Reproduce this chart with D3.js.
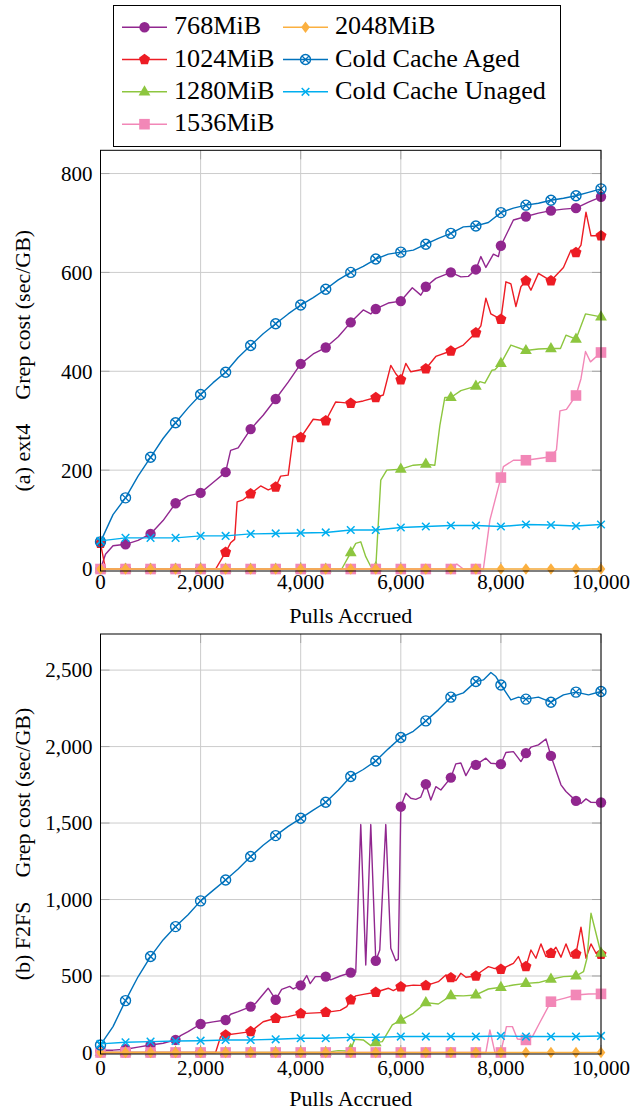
<!DOCTYPE html>
<html><head><meta charset="utf-8">
<script src="https://cdn.jsdelivr.net/npm/d3@7"></script>
<style>body{margin:0;background:#fff}svg{display:block}text{font-family:"Liberation Serif","Times New Roman",serif;fill:#000}</style>
</head><body>
<svg id="chart" width="640" height="1110"></svg>
<script>
// ---------- tick values ----------
const X_TICKS = [0, 2000, 4000, 6000, 8000, 10000];
const EXT4_Y_TICKS = [0, 200, 400, 600, 800];
const F2FS_Y_TICKS = [0, 500, 1000, 1500, 2000, 2500];
const SERIES_NAMES = ["768MiB", "1024MiB", "1280MiB", "1536MiB", "2048MiB", "Cold Cache Aged", "Cold Cache Unaged"];
const SERIES_COLORS = ["#91278F", "#ED1C24", "#8DC63F", "#F287B7", "#FBB040", "#0072BC", "#00AEEF"];
const SERIES_MARKS = ["circle", "pentagon", "triangle", "square", "diamond", "otimes", "cross"];

// ---------- (a) ext4 ----------
const ext4_768 = [[0,0],[100,30],[250,47],[500,50],[750,58],[1000,71],[1250,98],[1500,133],[1750,148],[2000,154],[2250,175],[2500,196],[2600,240],[2750,245],[3000,283],[3250,311],[3500,344],[3750,378],[4000,415],[4250,435],[4500,448],[4750,470],[5000,499],[5250,524],[5400,516],[5500,526],[5750,538],[6000,542],[6230,569],[6400,554],[6500,571],[6700,588],[7000,600],[7200,591],[7350,592],[7500,606],[7600,632],[7700,610],[7850,637],[7950,632],[8000,654],[8250,706],[8500,713],[8750,720],[9000,725],[9250,728],[9500,730],[9750,742],[10000,753]];
const ext4_1024 = [[0,52],[100,0],[500,0],[1000,0],[1500,0],[2000,0],[2300,0],[2500,34],[2600,53],[2680,60],[2730,136],[2850,140],[3000,152],[3200,168],[3350,160],[3500,166],[3600,188],[3750,190],[3850,268],[4000,266],[4250,303],[4500,300],[4700,338],[4800,337],[5000,335],[5250,340],[5500,347],[5650,352],[5800,412],[5900,395],[6000,383],[6100,416],[6200,399],[6500,405],[6700,430],[7000,441],[7250,453],[7500,478],[7600,492],[7700,548],[7800,516],[8000,505],[8100,581],[8200,577],[8300,531],[8400,571],[8500,583],[8600,564],[8750,598],[9000,583],[9250,610],[9400,645],[9500,640],[9600,655],[9700,722],[9800,674],[10000,674]];
const ext4_1280 = [[0,0],[500,0],[1000,0],[1500,0],[2000,0],[2500,0],[3000,0],[3500,0],[4000,0],[4500,0],[4820,0],[5000,33],[5100,52],[5200,55],[5300,25],[5400,5],[5500,3],[5600,180],[5720,200],[6000,202],[6250,210],[6500,212],[6680,210],[6780,290],[6880,347],[7000,347],[7200,361],[7500,370],[7580,379],[7680,376],[7820,402],[7880,403],[8000,416],[8200,453],[8500,442],[8750,445],[9000,446],[9190,446],[9300,473],[9500,465],[9690,516],[10000,510]];
const ext4_1536 = [[0,0],[500,0],[1000,0],[1500,0],[2000,0],[2500,0],[3000,0],[3500,0],[4000,0],[4500,0],[5000,0],[5500,0],[6000,0],[6500,0],[7000,0],[7120,10],[7250,0],[7500,0],[7650,0],[7780,99],[8000,185],[8050,207],[8250,220],[8500,220],[9000,227],[9110,241],[9180,320],[9310,323],[9500,351],[9600,385],[9690,440],[9790,419],[10000,438]];
const ext4_2048 = [[0,0],[500,0],[1000,0],[1500,0],[2000,0],[2500,0],[3000,0],[3500,0],[4000,0],[4500,0],[5000,0],[5500,0],[6000,0],[6500,0],[7000,0],[7500,0],[8000,0],[8500,0],[9000,0],[9500,0],[10000,0]];
const ext4_aged = [[0,55],[250,110],[500,144],[750,188],[1000,226],[1250,264],[1500,296],[1750,326],[2000,353],[2250,377],[2500,398],[2750,428],[3000,452],[3250,476],[3500,496],[3750,516],[4000,534],[4250,549],[4500,566],[4750,585],[5000,600],[5250,612],[5500,627],[5750,637],[6000,641],[6250,645],[6500,657],[6750,669],[7000,679],[7250,692],[7500,694],[7750,701],[8000,721],[8250,730],[8500,736],[8750,740],[9000,746],[9250,750],[9500,755],[9750,762],[10000,769]];
const ext4_unaged = [[0,57],[500,63],[1000,63],[1500,63],[2000,67],[2500,67],[3000,71],[3500,72],[4000,73],[4500,74],[5000,79],[5500,79],[6000,84],[6500,86],[7000,88],[7500,88],[8000,86],[8500,90],[9000,89],[9500,87],[10000,90]];

// ---------- (b) F2FS ----------
const f2fs_768 = [[0,15],[250,15],[500,21],[750,35],[1000,49],[1250,60],[1500,82],[1600,110],[1750,136],[2000,186],[2250,200],[2500,212],[2600,250],[2750,267],[3000,300],[3100,322],[3350,420],[3500,345],[3620,412],[3780,432],[3850,415],[4000,439],[4120,503],[4190,450],[4290,496],[4500,496],[4600,475],[4790,500],[5000,522],[5100,525],[5200,1490],[5300,572],[5400,1490],[5500,600],[5580,670],[5700,1490],[5800,681],[5900,600],[5950,610],[6000,1607],[6100,1695],[6200,1662],[6300,1655],[6400,1670],[6500,1754],[6600,1651],[6700,1738],[6800,1716],[7000,1797],[7100,1887],[7200,1893],[7300,1810],[7400,1868],[7500,1880],[7700,1924],[7800,1891],[8000,1885],[8100,1961],[8250,1967],[8400,1902],[8500,1957],[8600,1996],[8750,2011],[8900,2050],[9000,1939],[9200,1750],[9300,1706],[9500,1645],[9600,1628],[9700,1658],[9800,1635],[10000,1634]];
const f2fs_1024 = [[0,0],[500,0],[1000,0],[1500,0],[2000,0],[2300,0],[2400,104],[2500,114],[2750,125],[3000,136],[3250,201],[3500,224],[3750,234],[4000,254],[4500,262],[4790,275],[4920,300],[5000,345],[5100,370],[5250,380],[5500,394],[5750,420],[5850,405],[6000,430],[6250,440],[6500,437],[6750,463],[6900,507],[7000,489],[7100,470],[7200,518],[7300,492],[7500,500],[7600,528],[7750,561],[7850,551],[8000,544],[8250,583],[8350,627],[8450,551],[8500,561],[8600,670],[8700,616],[8800,710],[8900,627],[9000,649],[9100,688],[9200,623],[9300,710],[9400,627],[9500,644],[9600,819],[9700,616],[9800,710],[9900,649],[10000,642]];
const f2fs_1280 = [[0,0],[500,0],[1000,0],[1500,0],[2000,0],[2500,0],[3000,0],[3500,0],[4000,0],[4500,0],[4750,12],[4900,10],[5000,20],[5080,86],[5250,82],[5400,45],[5500,64],[5630,71],[5830,180],[6000,212],[6250,256],[6500,326],[6750,317],[7000,372],[7250,370],[7500,376],[7750,415],[8000,426],[8250,441],[8500,452],[8750,457],[9000,479],[9250,496],[9500,500],[9650,528],[9720,616],[9800,910],[10000,649]];
const f2fs_1536 = [[0,0],[500,0],[1000,0],[1500,0],[2000,0],[2500,0],[3000,0],[3500,0],[4000,0],[4500,0],[5000,0],[5500,0],[6000,0],[6500,0],[7000,0],[7500,0],[7700,0],[7780,147],[7880,0],[8000,0],[8110,169],[8230,169],[8330,88],[8500,82],[8630,104],[8770,191],[9000,332],[9260,354],[9500,376],[9750,382],[10000,383]];
const f2fs_2048 = [[0,0],[500,0],[1000,0],[1500,0],[2000,0],[2500,0],[3000,0],[3500,0],[4000,0],[4500,0],[5000,0],[5500,0],[6000,0],[6500,0],[7000,0],[7500,0],[8000,0],[8500,0],[9000,0],[9500,0],[10000,0]];
const f2fs_aged = [[0,49],[250,169],[500,339],[750,495],[1000,627],[1250,736],[1500,823],[1750,900],[2000,991],[2250,1060],[2500,1128],[2750,1200],[3000,1281],[3250,1355],[3500,1418],[3750,1478],[4000,1531],[4250,1585],[4500,1636],[4750,1715],[5000,1804],[5250,1850],[5500,1906],[5750,1985],[6000,2059],[6250,2100],[6500,2168],[6750,2240],[7000,2323],[7250,2351],[7500,2425],[7650,2436],[7800,2484],[7900,2458],[8000,2403],[8200,2305],[8350,2323],[8500,2310],[8750,2323],[9000,2290],[9250,2338],[9500,2356],[9750,2338],[10000,2360]];
const f2fs_unaged = [[0,56],[500,67],[1000,71],[1500,75],[2000,77],[2500,82],[3000,82],[3500,86],[4000,93],[4500,93],[5000,99],[5500,99],[6000,104],[6500,104],[7000,104],[7500,104],[8000,108],[8500,104],[9000,104],[9500,104],[10000,108]];

const EXT4_SERIES = [ext4_768, ext4_1024, ext4_1280, ext4_1536, ext4_2048, ext4_aged, ext4_unaged];
const F2FS_SERIES = [f2fs_768, f2fs_1024, f2fs_1280, f2fs_1536, f2fs_2048, f2fs_aged, f2fs_unaged];

// ---------- drawing ----------
const svg = d3.select("#chart");
const x = d3.scaleLinear().domain([0, 10000]).range([100.5, 601]);
const fmt = d3.format(",");

function drawMarker(g, type, color, cx, cy) {
  const m = g.append("g").attr("transform", `translate(${cx},${cy})`);
  if (type === "circle") m.append("circle").attr("r", 5.2).attr("fill", color);
  else if (type === "pentagon") {
    const pts = d3.range(5).map(k => { const a = -Math.PI / 2 + k * 2 * Math.PI / 5; return [5.8 * Math.cos(a), 5.8 * Math.sin(a)]; });
    m.append("path").attr("d", "M" + pts.join("L") + "Z").attr("fill", color);
  } else if (type === "triangle") m.append("path").attr("d", "M0,-6.6L5.9,3.6L-5.9,3.6Z").attr("fill", color);
  else if (type === "square") m.append("rect").attr("x", -5.3).attr("y", -5.3).attr("width", 10.6).attr("height", 10.6).attr("fill", color);
  else if (type === "diamond") m.append("path").attr("d", "M0,-5.8L4.3,0L0,5.8L-4.3,0Z").attr("fill", color);
  else if (type === "otimes") {
    m.append("circle").attr("r", 5).attr("fill", "none").attr("stroke", color).attr("stroke-width", 1.4);
    m.append("path").attr("d", "M-3.5,-3.5L3.5,3.5M3.5,-3.5L-3.5,3.5").attr("stroke", color).attr("stroke-width", 1.3);
  } else if (type === "cross") m.append("path").attr("d", "M-3.8,-3.8L3.8,3.8M3.8,-3.8L-3.8,3.8").attr("stroke", color).attr("stroke-width", 1.5);
}

function drawPanel(p) {
  const y = d3.scaleLinear().domain(p.yDomain).range([p.bottom, p.top]);
  const g = svg.append("g");
  // grid
  g.selectAll(".gx").data(X_TICKS).join("line").attr("x1", d => x(d)).attr("x2", d => x(d))
    .attr("y1", p.top).attr("y2", p.bottom).attr("stroke", "#cccccc").attr("stroke-width", 1);
  g.selectAll(".gy").data(p.yTicks).join("line").attr("x1", x.range()[0]).attr("x2", x.range()[1])
    .attr("y1", d => y(d)).attr("y2", d => y(d)).attr("stroke", "#cccccc").attr("stroke-width", 1);
  // inner ticks
  const tk = g.append("g").attr("stroke", "#a6a6a6").attr("stroke-width", 1);
  p.yTicks.forEach(d => {
    tk.append("line").attr("x1", x.range()[0]).attr("x2", x.range()[0] + 9).attr("y1", y(d)).attr("y2", y(d));
    tk.append("line").attr("x1", x.range()[1] - 9).attr("x2", x.range()[1]).attr("y1", y(d)).attr("y2", y(d));
  });
  X_TICKS.forEach(d => {
    tk.append("line").attr("x1", x(d)).attr("x2", x(d)).attr("y1", p.bottom).attr("y2", p.bottom - 9);
    tk.append("line").attr("x1", x(d)).attr("x2", x(d)).attr("y1", p.top).attr("y2", p.top + 9);
  });
  // series
  const line = d3.line().x(d => x(d[0])).y(d => y(d[1]));
  p.series.forEach((s, i) => {
    const sg = g.append("g");
    sg.append("path").attr("d", line(s)).attr("fill", "none").attr("stroke", SERIES_COLORS[i])
      .attr("stroke-width", 1.4).attr("stroke-linejoin", "round");
    s.filter(d => d[0] % 500 === 0).forEach(d => drawMarker(sg, SERIES_MARKS[i], SERIES_COLORS[i], x(d[0]), y(d[1])));
  });
  // frame
  g.append("rect").attr("x", x.range()[0]).attr("y", p.top).attr("width", x.range()[1] - x.range()[0])
    .attr("height", p.bottom - p.top).attr("fill", "none").attr("stroke", "#000").attr("stroke-width", 1);
  // tick labels
  g.selectAll(".ly").data(p.yTicks).join("text").attr("x", 92.5).attr("y", d => y(d)).attr("dy", "0.35em")
    .attr("text-anchor", "end").attr("font-size", 21).text(d => fmt(d));
  g.selectAll(".lx").data(X_TICKS).join("text").attr("x", d => x(d)).attr("y", p.xLabelY)
    .attr("text-anchor", "middle").attr("font-size", 21).text(d => fmt(d));
  // axis titles
  g.append("text").attr("x", (x.range()[0] + x.range()[1]) / 2).attr("y", p.xTitleY).attr("text-anchor", "middle")
    .attr("font-size", 22).text("Pulls Accrued");
  const yt = g.append("text").attr("transform", `translate(30,${(p.top + p.bottom) / 2}) rotate(-90)`)
    .attr("text-anchor", "middle").attr("font-size", 22);
  yt.append("tspan").text(p.tag);
  yt.append("tspan").attr("dx", 24).text("Grep cost (sec/GB)");
}

drawPanel({ top: 150.3, bottom: 571, yDomain: [-4, 847], yTicks: EXT4_Y_TICKS, series: EXT4_SERIES, xLabelY: 589, xTitleY: 623, tag: "(a) ext4" });
drawPanel({ top: 634, bottom: 1054, yDomain: [-10, 2736], yTicks: F2FS_Y_TICKS, series: F2FS_SERIES, xLabelY: 1075, xTitleY: 1106, tag: "(b) F2FS" });

// ---------- legend ----------
const lg = svg.append("g");
lg.append("rect").attr("x", 113.5).attr("y", 5.5).attr("width", 447).attr("height", 141).attr("fill", "#fff").attr("stroke", "#000");
const rowY = [27.3, 59.5, 91.8, 124.2];
SERIES_NAMES.forEach((name, i) => {
  const col = i < 4 ? 0 : 1, row = i < 4 ? i : i - 4;
  const x0 = col === 0 ? 122 : 283, cy = rowY[row];
  lg.append("line").attr("x1", x0).attr("x2", x0 + 45).attr("y1", cy).attr("y2", cy).attr("stroke", SERIES_COLORS[i]).attr("stroke-width", 1.4);
  drawMarker(lg, SERIES_MARKS[i], SERIES_COLORS[i], x0 + 22.5, cy);
  lg.append("text").attr("x", x0 + 52).attr("y", cy + 7).attr("font-size", 26.2).text(name);
});
</script>
</body></html>
